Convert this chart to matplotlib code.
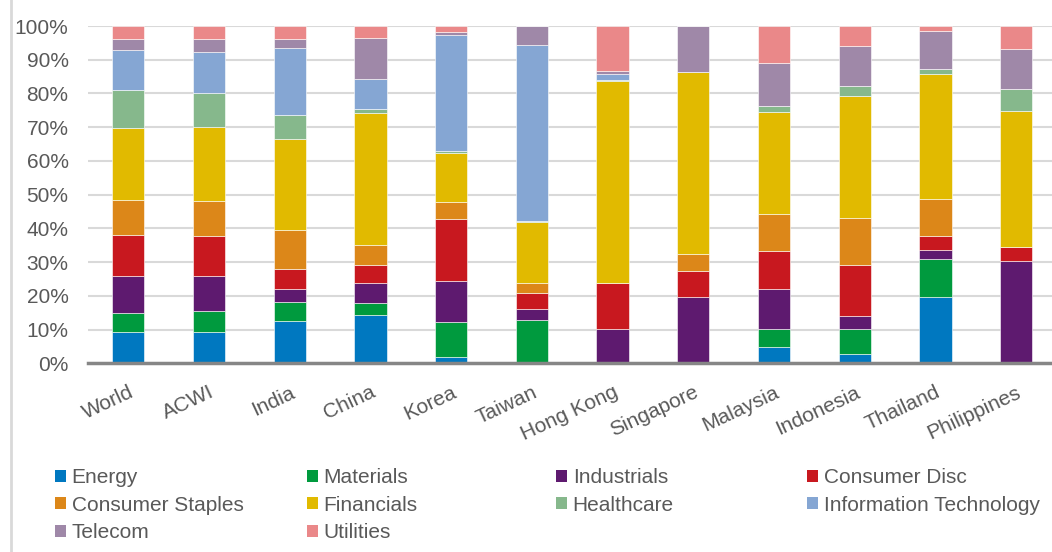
import numpy as np
import matplotlib
matplotlib.use("Agg")
import matplotlib.pyplot as plt
from matplotlib.patches import Patch
from matplotlib.lines import Line2D

plt.rcParams['font.family'] = ['Liberation Sans', 'DejaVu Sans']

markets = ['World', 'ACWI', 'India', 'China', 'Korea', 'Taiwan', 'Hong Kong',
           'Singapore', 'Malaysia', 'Indonesia', 'Thailand', 'Philippines']

sectors = ['Energy', 'Materials', 'Industrials', 'Consumer Disc',
           'Consumer Staples', 'Financials', 'Healthcare',
           'Information Technology', 'Telecom', 'Utilities']

# sector weights (%) per market, same order as markets
energy      = [9.2, 9.4, 12.4, 14.3, 2.0, 0.4, 0.0, 0.0, 4.9, 2.7, 19.6, 0.0]
materials   = [5.6, 6.1, 5.7, 3.5, 10.2, 12.3, 0.0, 0.0, 5.2, 7.5, 11.2, 0.0]
industrials = [11.2, 10.5, 3.8, 5.9, 12.1, 3.4, 10.1, 19.6, 12.0, 3.7, 2.8, 30.2]
cons_disc   = [12.0, 11.7, 6.2, 5.5, 18.4, 4.6, 13.8, 7.9, 11.3, 15.3, 4.2, 4.4]
cons_stap   = [10.5, 10.5, 11.4, 6.0, 5.1, 3.2, 0.0, 5.0, 10.8, 14.0, 11.0, 0.0]
financials  = [21.2, 21.8, 27.0, 38.9, 14.5, 18.0, 59.9, 54.0, 30.4, 35.9, 37.1, 40.2]
healthcare  = [11.3, 10.2, 7.0, 1.4, 0.6, 0.4, 0.2, 0.0, 1.8, 3.0, 1.4, 6.4]
info_tech   = [11.8, 12.2, 19.9, 8.8, 34.3, 52.2, 1.7, 0.0, 0.0, 0.0, 0.0, 0.0]
telecom     = [3.4, 3.8, 2.6, 12.0, 1.1, 5.5, 1.0, 13.5, 12.5, 11.9, 11.3, 12.0]
utilities   = [3.8, 3.8, 4.0, 3.7, 1.7, 0.0, 13.3, 0.0, 11.1, 6.0, 1.4, 6.8]

series = [energy, materials, industrials, cons_disc, cons_stap,
          financials, healthcare, info_tech, telecom, utilities]

colors = ['#0078C0', '#009A3E', '#5E1A6F', '#C8181F', '#DC8719',
          '#E1BA00', '#86B88C', '#85A6D3', '#9F88A8', '#EA8889']

txt = '#595959'
fs = 15
W, H = 1052, 552

fig = plt.figure(figsize=(W / 100, H / 100), dpi=100)
ax = fig.add_axes([88 / W, (H - 363.3) / H, (W - 88) / W, 337.3 / H])

x = np.arange(len(markets))
bottom = np.zeros(len(markets))
for vals, c in zip(series, colors):
    vals = np.array(vals)
    ax.bar(x, vals, 0.4, bottom=bottom, color=c, edgecolor='white',
           linewidth=0.4, zorder=3)
    bottom += vals

ax.set_ylim(0, 100)
ax.set_xlim(-0.5, 11.445)
ax.set_yticks(np.arange(0, 101, 10))
ax.set_yticklabels([f'{v}%' for v in range(0, 101, 10)])
ax.yaxis.grid(True, color='#D9D9D9', linewidth=1.5, zorder=0)
ax.set_axisbelow(True)
for s in ['top', 'right', 'left']:
    ax.spines[s].set_visible(False)
ax.spines['bottom'].set_color('#868686')
ax.spines['bottom'].set_linewidth(2.5)
ax.spines['bottom'].set_zorder(4)

ax.tick_params(axis='y', length=0, pad=14, labelsize=fs, labelcolor=txt)
ax.tick_params(axis='x', length=0, pad=14, labelsize=fs, labelcolor=txt)
ax.set_xticks(x)
ax.set_xticklabels(markets, rotation=25, ha='right', va='top',
                   rotation_mode='anchor')

# legend laid out in four fixed-width columns
handles = [Patch(facecolor=c, edgecolor='none', label=s)
           for s, c in zip(sectors, colors)]
columns = [[0, 4, 8], [1, 5, 9], [2, 6], [3, 7]]
col_x = [55, 307, 556, 807]
for idx, cx in zip(columns, col_x):
    leg = fig.legend(handles=[handles[i] for i in idx], loc='upper left',
                     bbox_to_anchor=(cx / W, 1 - 468 / H),
                     bbox_transform=fig.transFigure, frameon=False,
                     borderpad=0, borderaxespad=0, fontsize=fs,
                     handlelength=0.52, handleheight=0.52,
                     handletextpad=0.28, labelspacing=0.42, labelcolor=txt)

# light frame line on the left edge
fig.add_artist(Line2D([11 / W, 11 / W], [0, 1], transform=fig.transFigure,
                      color='#D9D9D9', linewidth=2))

fig.savefig('out.png', dpi=100)
